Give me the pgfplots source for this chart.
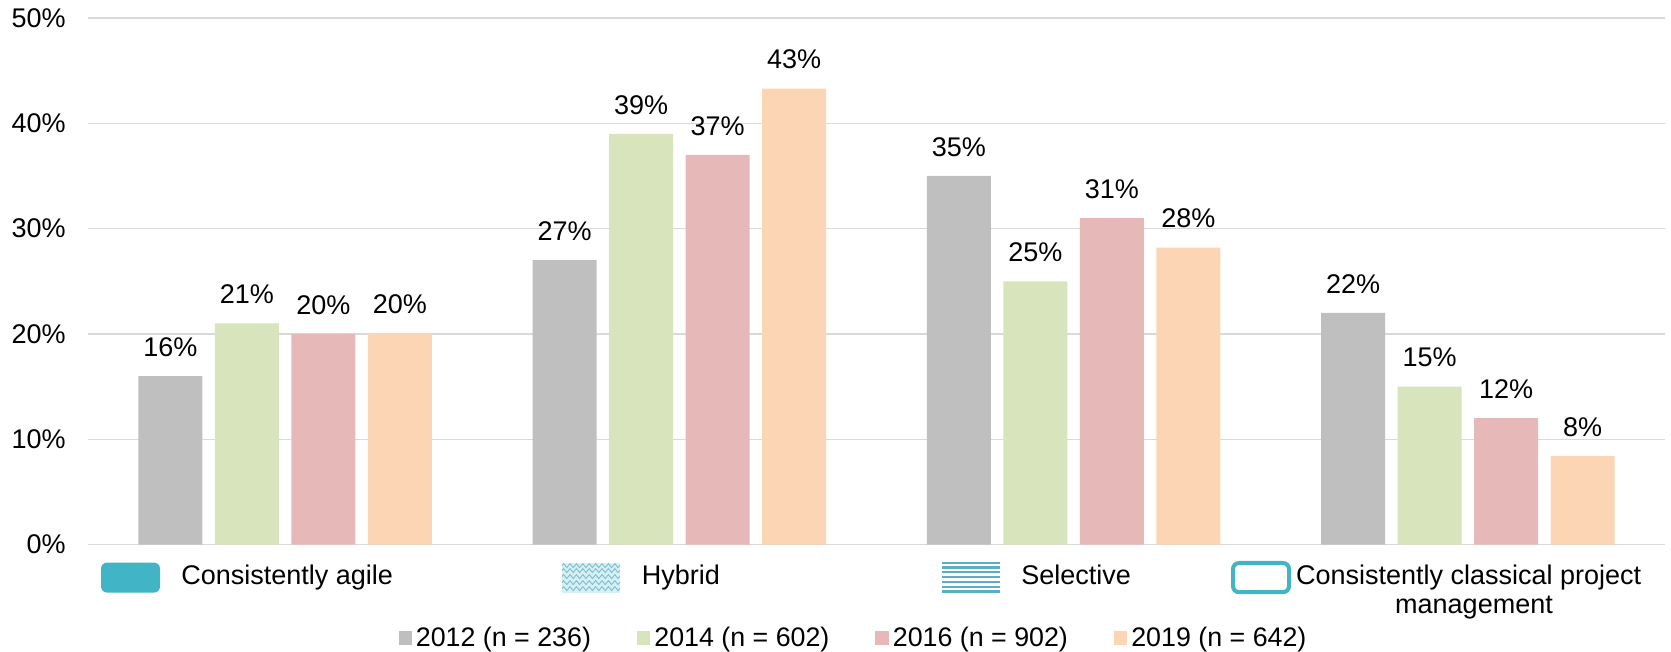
\documentclass[border=0pt]{standalone}
\usepackage{pgfplots}
\pgfplotsset{compat=1.18}
\usepackage{fontspec}
\setmainfont{Liberation Sans}
\usetikzlibrary{decorations.pathmorphing}
\definecolor{c12}{HTML}{BFBFBF}
\definecolor{c14}{HTML}{D8E4BC}
\definecolor{c16}{HTML}{E6B9B8}
\definecolor{c19}{HTML}{FCD5B5}
\definecolor{gridgray}{HTML}{D9D9D9}
\definecolor{teal1}{HTML}{41B5C5}
\definecolor{teal2}{HTML}{5AAFC4}
\definecolor{tealpale}{HTML}{D6F0F3}
\begin{document}
\begin{tikzpicture}
\useasboundingbox (-44pt,-53.7pt) rectangle (791.5pt,272.3pt);
\begin{axis}[
  scale only axis,
  width=788.5pt, height=263.3pt,
  ybar=6.25pt, bar width=32pt,
  xmin=-0.5, xmax=3.5,
  ymin=0, ymax=50,
  enlarge y limits=false,
  axis line style={draw=none},
  tick style={draw=none},
  xtick=\empty,
  ytick={0,10,20,30,40,50},
  yticklabel={\pgfmathprintnumber{\tick}\%},
  yticklabel style={inner sep=0pt, xshift=-11pt},
  /pgf/number format/assume math mode=true,
  ymajorgrids,
  major grid style={color=gridgray, line width=0.75pt},
  font=\fontsize{13.5}{16}\selectfont,
  nodes near coords={\pgfmathprintnumber[fixed,precision=0]{\pgfplotspointmeta}\%},
  every node near coord/.append style={anchor=south, inner sep=0pt, yshift=9.5pt, font=\fontsize{13.5}{16}\selectfont, text=black},
  legend columns=4,
  legend style={draw=none, fill=none, at={(0.4854,-0.1773)}, anchor=center,
    font=\fontsize{13.4}{15}\selectfont,
    /tikz/every even column/.append style={column sep=22pt},
    /tikz/every odd column/.append style={column sep=1pt},
    nodes={inner sep=1pt}},
  legend cell align=left,
]
\addplot[fill=c12, draw=none, legend image code/.code={\fill[c12] (0pt,-3.35pt) rectangle (6.7pt,3.35pt);}] coordinates {(0,16) (1,27) (2,35) (3,22)};
\addplot[fill=c14, draw=none, legend image code/.code={\fill[c14] (0pt,-3.35pt) rectangle (6.7pt,3.35pt);}] coordinates {(0,21) (1,39) (2,25) (3,15)};
\addplot[fill=c16, draw=none, legend image code/.code={\fill[c16] (0pt,-3.35pt) rectangle (6.7pt,3.35pt);}] coordinates {(0,20) (1,37) (2,31) (3,12)};
\addplot[fill=c19, draw=none, legend image code/.code={\fill[c19] (0pt,-3.35pt) rectangle (6.7pt,3.35pt);}] coordinates {(0,20.1) (1,43.3) (2,28.2) (3,8.4)};
\legend{2012 (n = 236),2014 (n = 602),2016 (n = 902),2019 (n = 642)}
\end{axis}
% category icons
\fill[teal1, rounded corners=3pt] (21.25pt,-16.5pt) +(-14.75pt,-7.5pt) rectangle +(14.75pt,7.5pt);
\fill[tealpale] (237pt,-24pt) rectangle (266pt,-9pt);
\foreach \yy in {-22pt,-19pt,-16pt,-13pt,-10.5pt}{
  \draw[teal2!80, line width=0.45pt, decorate, decoration={zigzag, segment length=3.2pt, amplitude=1pt}] (237pt,\yy) -- (266pt,\yy);
}
\foreach \yy in {-23.5pt,-21.1pt,-18.7pt,-16.3pt,-13.9pt,-11.5pt,-9.3pt}{
  \draw[teal2, line width=1.1pt] (427.2pt,\yy) -- (456.2pt,\yy);
}
\draw[teal1, line width=2pt, fill=white, rounded corners=3pt] (572.5pt,-23.8pt) rectangle (600.5pt,-9.2pt);
% category texts
\begingroup
\fontsize{13.5}{16}\selectfont
\node[anchor=base west, inner sep=0pt] at (46.5pt,-20.2pt) {Consistently agile};
\node[anchor=base west, inner sep=0pt] at (276.75pt,-20.2pt) {Hybrid};
\node[anchor=base west, inner sep=0pt] at (466.5pt,-20.2pt) {Selective};
\node[anchor=base, inner sep=0pt] at (690.3pt,-20.2pt) {Consistently classical project};
\node[anchor=base, inner sep=0pt] at (693pt,-34.6pt) {management};
\endgroup
\end{tikzpicture}
\end{document}
